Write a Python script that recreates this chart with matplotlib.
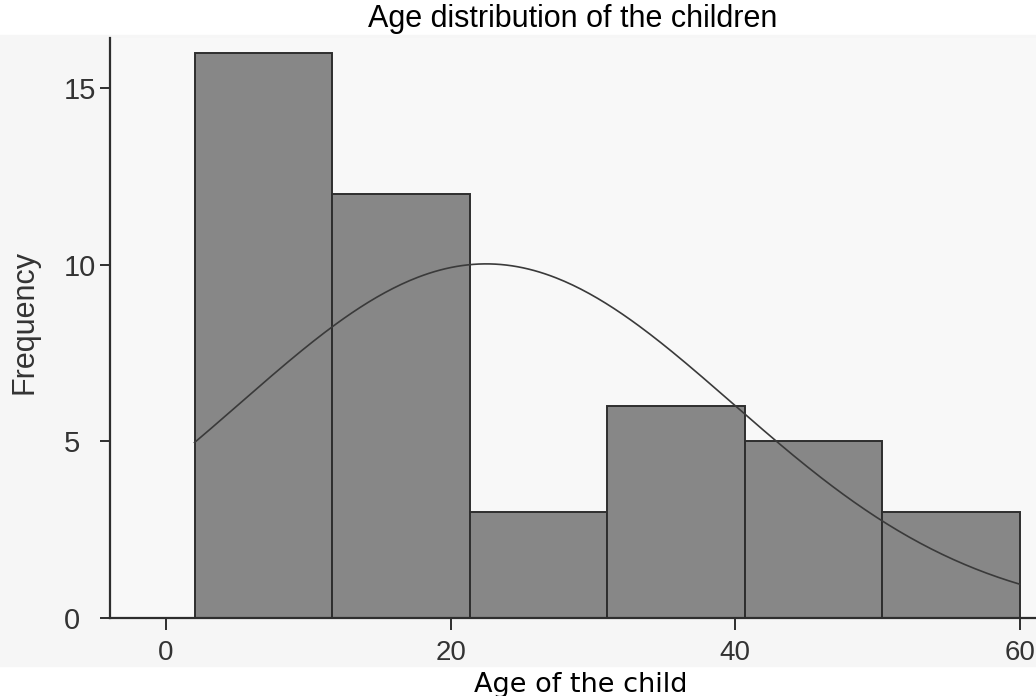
import numpy as np
import matplotlib.pyplot as plt
from matplotlib.patches import Rectangle

# histogram of ages (bins from min 2 to max 60, 6 bins)
bin_edges = [2.0, 11.67, 21.33, 31.0, 40.67, 50.33, 60.0]
frequencies = [16, 12, 3, 6, 5, 3]

# fitted normal curve
mean_age = 22.5
std_age = 17.3

x_ticks = [0, 20, 40, 60]
y_ticks = [0, 5, 10, 15]

W, H = 1036, 696
fig = plt.figure(figsize=(W / 100, H / 100), dpi=100)
fig.patch.set_facecolor("white")
# scanned page area (slightly grey)
fig.patches.append(Rectangle((0, 30 / H), 1, 631 / H,
                             transform=fig.transFigure, color="#f6f6f6", zorder=-10))

ax = fig.add_axes([110 / W, 78 / H, 926 / W, 580 / H])
ax.set_facecolor("#f8f8f8")

widths = np.diff(bin_edges)
ax.bar(bin_edges[:-1], frequencies, width=widths, align="edge",
       color="#878787", edgecolor="#2e2e2e", linewidth=1.4, zorder=2)

n = sum(frequencies)
bw = widths.mean()
xs = np.linspace(bin_edges[0], bin_edges[-1], 300)
curve = n * bw * np.exp(-0.5 * ((xs - mean_age) / std_age) ** 2) / (std_age * np.sqrt(2 * np.pi))
ax.plot(xs, curve, color="#3a3a3a", linewidth=1.2, zorder=3)

ax.set_xlim(-3.94, 61.14)
ax.set_ylim(0, 16.43)
ax.set_xticks(x_ticks)
ax.set_yticks(y_ticks)

for side in ["top", "right"]:
    ax.spines[side].set_visible(False)
for side in ["left", "bottom"]:
    ax.spines[side].set_color("#2e2e2e")
    ax.spines[side].set_linewidth(1.6)

ax.tick_params(axis="y", direction="out", length=7, width=1.4, color="#2e2e2e",
               labelsize=21, pad=26)
ax.tick_params(axis="x", direction="out", length=8.5, width=1.4, color="#2e2e2e",
               labelsize=20, pad=7)
for lab in ax.get_yticklabels():
    lab.set_horizontalalignment("left")
for lab in ax.get_xticklabels() + ax.get_yticklabels():
    lab.set_family(["Liberation Sans", "DejaVu Sans"])
    lab.set_color("#333333")

fig.text(25 / W, 1 - 322 / H, "Frequency", rotation=90, ha="center", va="center",
         fontsize=22, family=["Liberation Sans", "DejaVu Sans"], color="#333333")
fig.text(581 / W, 4 / H, "Age of the child", ha="center", va="baseline",
         fontsize=19.5, family=["DejaVu Sans"])
fig.text(573 / W, 1 - 27 / H, "Age distribution of the children", ha="center",
         va="baseline", fontsize=22, family=["Liberation Sans", "DejaVu Sans"])

fig.savefig("out.png", dpi=100, facecolor=fig.get_facecolor())
